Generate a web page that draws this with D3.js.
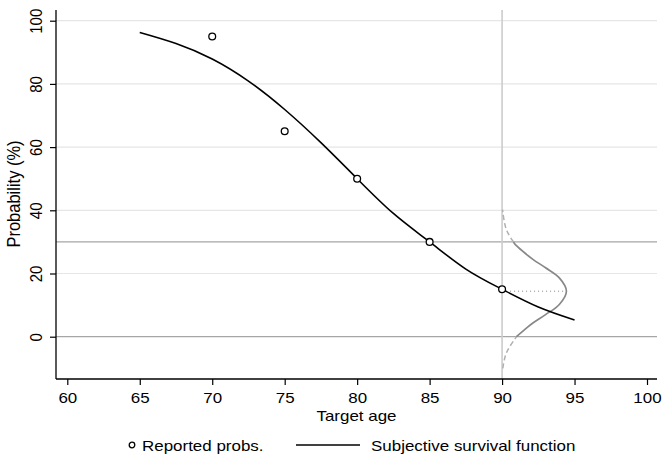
<!DOCTYPE html>
<html>
<head>
<meta charset="utf-8">
<script src="https://cdn.jsdelivr.net/npm/d3@7"></script>
<style>
  body { margin: 0; background: #fff; }
  text { font-family: "Liberation Sans", Arial, Helvetica, sans-serif; fill: #000; }
</style>
</head>
<body>
<div id="chart"></div>
<script>
const WIDTH = 664;
const HEIGHT = 462;
const PLOT_LEFT = 56;
const PLOT_RIGHT = 657;
const PLOT_TOP = 10;
const PLOT_BOTTOM = 379;
const FONT_SIZE = 15;
const STRETCH = 'scale(1.13, 1)';   // the reference text runs a bit wide

// Reported probabilities
const reportedAges = [70, 75, 80, 85, 90];
const reportedProbs = [95, 65, 50, 30, 15];

// Fitted subjective survival function
const curveAges = [65, 67.5, 70, 72.5, 75, 77.5, 80, 82.5, 85, 87.5, 90, 92.5, 95];
const curveProbs = [96.3, 92.8, 87.9, 80.9, 71.9, 61.4, 50.0, 39.0, 30.0, 21.4, 15.0, 9.4, 5.3];

// Sideways density at age 90 (prob level, width in years)
const densityMean = 14.4;
const densityProbs = [-10, -6.6, -4, 0, 2.8, 4.4, 7.0, 10.2, 14.4, 18.6, 21.8, 24.4, 26, 28.8, 30, 32.8, 35.4, 40.2];
const densityWidth = [0.05, 0.17, 0.38, 0.99, 1.7, 2.15, 3.0, 3.95, 4.44, 3.95, 3.0, 2.15, 1.7, 0.99, 0.78, 0.38, 0.17, 0.03];

const xTicks = [60, 65, 70, 75, 80, 85, 90, 95, 100];
const yTicks = [0, 20, 40, 60, 80, 100];
const refLines = [0, 30];

document.addEventListener('DOMContentLoaded', function() {
  createChart();
});

// horizontal text, stretched sideways around its anchor point
function addText(parent, x, y, str, anchor) {
  return parent.append('g')
               .attr('transform', 'translate(' + x + ',' + y + ') ' + STRETCH)
               .append('text')
               .attr('text-anchor', anchor)
               .attr('font-size', FONT_SIZE)
               .text(str);
}

function createChart() {
  const xScale = d3.scaleLinear()
                   .domain([60, 100])
                   .range([67.3, 647]);
  const yScale = d3.scaleLinear()
                   .domain([0, 100])
                   .range([336.7, 20.7]);

  const svg = d3.select('#chart')
                .append('svg')
                .attr('width', WIDTH)
                .attr('height', HEIGHT);

  // light grid at the y ticks
  svg.selectAll('.grid')
     .data(yTicks.filter(d => d !== 0))
     .enter()
     .append('line')
     .attr('x1', PLOT_LEFT)
     .attr('x2', PLOT_RIGHT)
     .attr('y1', d => yScale(d))
     .attr('y2', d => yScale(d))
     .attr('stroke', '#e6e6e6')
     .attr('stroke-width', 1.2);

  // reference lines at 0 and 30
  svg.selectAll('.ref')
     .data(refLines)
     .enter()
     .append('line')
     .attr('x1', PLOT_LEFT)
     .attr('x2', PLOT_RIGHT)
     .attr('y1', d => yScale(d))
     .attr('y2', d => yScale(d))
     .attr('stroke', '#a6a6a6')
     .attr('stroke-width', 1.2);

  // vertical line at 90
  svg.append('line')
     .attr('x1', xScale(90))
     .attr('x2', xScale(90))
     .attr('y1', PLOT_TOP)
     .attr('y2', PLOT_BOTTOM)
     .attr('stroke', '#cccccc')
     .attr('stroke-width', 1.6);

  // density, split into dashed tails and a solid middle
  const density = densityProbs.map((p, i) => ({p: p, w: densityWidth[i]}));
  const densityLine = d3.line()
                        .x(d => xScale(90 + d.w))
                        .y(d => yScale(d.p))
                        .curve(d3.curveBasis);
  const lower = density.filter(d => d.p <= 0);
  const middle = density.filter(d => d.p >= 0 && d.p <= 30);
  const upper = density.filter(d => d.p >= 30);

  [lower, upper].forEach(seg => {
    svg.append('path')
       .attr('d', densityLine(seg))
       .attr('fill', 'none')
       .attr('stroke', '#b0b0b0')
       .attr('stroke-width', 1.5)
       .attr('stroke-dasharray', '5,3');
  });
  svg.append('path')
     .attr('d', d3.line().x(d => xScale(90 + d.w)).y(d => yScale(d.p)).curve(d3.curveCatmullRom)(middle))
     .attr('fill', 'none')
     .attr('stroke', '#888888')
     .attr('stroke-width', 1.7);

  // dotted line from the point to the density peak
  svg.append('line')
     .attr('x1', xScale(90) + 4)
     .attr('x2', xScale(90 + d3.max(densityWidth)))
     .attr('y1', yScale(densityMean))
     .attr('y2', yScale(densityMean))
     .attr('stroke', '#888')
     .attr('stroke-width', 1)
     .attr('stroke-dasharray', '1,3');

  // survival function
  const curve = curveAges.map((a, i) => ({a: a, p: curveProbs[i]}));
  svg.append('path')
     .attr('d', d3.line().x(d => xScale(d.a)).y(d => yScale(d.p)).curve(d3.curveNatural)(curve))
     .attr('fill', 'none')
     .attr('stroke', '#000')
     .attr('stroke-width', 1.6);

  // reported points
  svg.selectAll('circle.pt')
     .data(reportedAges)
     .enter()
     .append('circle')
     .attr('class', 'pt')
     .attr('cx', d => xScale(d))
     .attr('cy', (d, i) => yScale(reportedProbs[i]))
     .attr('r', 3.4)
     .attr('fill', '#fff')
     .attr('stroke', '#000')
     .attr('stroke-width', 1.3);

  // x-axis
  const xAxis = d3.axisBottom(xScale).tickValues(xTicks).tickSize(6).tickSizeOuter(0);
  const gx = svg.append('g')
                .attr('transform', 'translate(0, ' + PLOT_BOTTOM + ')')
                .call(xAxis);
  gx.select('.domain').remove();
  gx.append('line')
    .attr('x1', PLOT_LEFT)
    .attr('x2', PLOT_RIGHT)
    .attr('stroke', '#000')
    .attr('stroke-width', 1.3);
  gx.selectAll('.tick line').attr('stroke-width', 1.2);
  gx.selectAll('text')
    .attr('y', 24.5)
    .attr('dy', null)
    .attr('transform', STRETCH)
    .attr('font-size', FONT_SIZE)
    .style('font-family', '"Liberation Sans", Arial, sans-serif');

  // y-axis
  const yAxis = d3.axisLeft(yScale).tickValues(yTicks).tickSize(6).tickFormat(d3.format('d'));
  const gy = svg.append('g')
                .attr('transform', 'translate(' + PLOT_LEFT + ', 0)')
                .call(yAxis);
  gy.select('.domain').remove();
  gy.append('line')
    .attr('y1', PLOT_TOP)
    .attr('y2', PLOT_BOTTOM)
    .attr('stroke', '#000')
    .attr('stroke-width', 1.3);
  gy.selectAll('.tick line').attr('stroke-width', 1.2);
  gy.selectAll('.tick text')
    .attr('x', null)
    .attr('dy', null)
    .attr('transform', 'translate(-14, 0) rotate(-90) scale(1, 1.15)')
    .attr('text-anchor', 'middle')
    .attr('font-size', FONT_SIZE)
    .style('font-family', '"Liberation Sans", Arial, sans-serif');

  // axis titles
  addText(svg, (PLOT_LEFT + PLOT_RIGHT) / 2, 421, 'Target age', 'middle');
  svg.append('text')
     .attr('transform', 'translate(19.5, 194) rotate(-90) scale(1, 1.1)')
     .attr('text-anchor', 'middle')
     .attr('font-size', 16.5)
     .text('Probability (%)');

  // legend
  const legend = svg.append('g').attr('transform', 'translate(0, 445)');
  legend.append('circle')
        .attr('cx', 132)
        .attr('cy', 0)
        .attr('r', 2.8)
        .attr('fill', '#fff')
        .attr('stroke', '#000')
        .attr('stroke-width', 1.3);
  addText(legend, 142, 6, 'Reported probs.', 'start');
  legend.append('line')
        .attr('x1', 296)
        .attr('x2', 360)
        .attr('stroke', '#000')
        .attr('stroke-width', 1.5);
  addText(legend, 371, 6, 'Subjective survival function', 'start');
}
</script>
</body>
</html>
